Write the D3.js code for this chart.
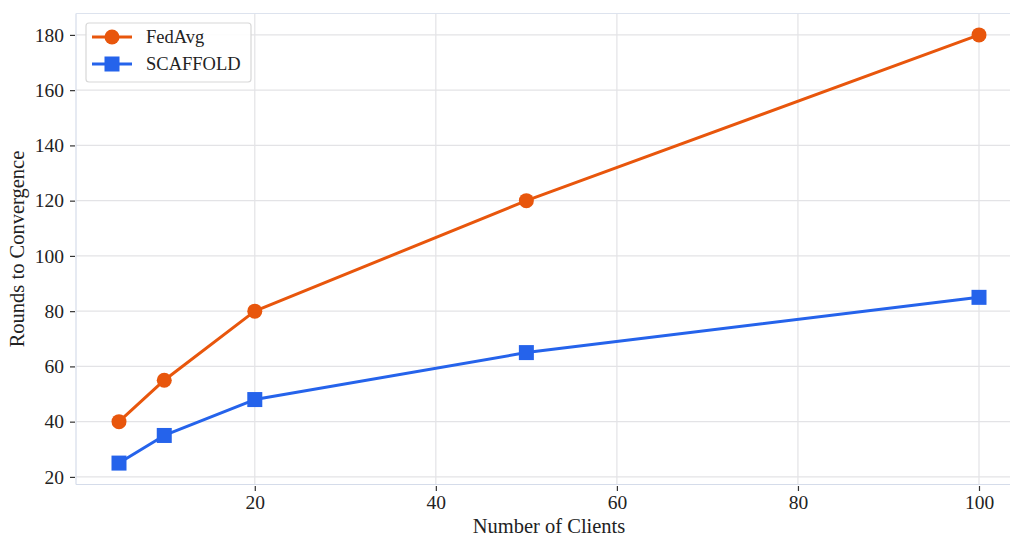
<!DOCTYPE html>
<html><head><meta charset="utf-8">
<script src="https://cdn.jsdelivr.net/npm/d3@7"></script>
<style>body{margin:0;background:#fff}svg{display:block}text{font-family:"Liberation Serif","DejaVu Serif",serif;fill:#222}</style>
</head><body>
<script>
const clients = [5, 10, 20, 50, 100];
const fedavg = [40, 55, 80, 120, 180];
const scaffold = [25, 35, 48, 65, 85];
const xTicks = [20, 40, 60, 80, 100];
const yTicks = [20, 40, 60, 80, 100, 120, 140, 160, 180];
const seriesNames = ["FedAvg", "SCAFFOLD"];

const W = 1010, H = 536;
const svg = d3.select("body").append("svg").attr("width", W).attr("height", H);
const x = d3.scaleLinear().domain([0.25, 104.75]).range([76, 1022]);
const y = d3.scaleLinear().domain([17.25, 187.75]).range([484.5, 13.5]);

// grid
svg.append("g").selectAll("line").data(xTicks).join("line")
  .attr("x1", d => x(d)).attr("x2", d => x(d)).attr("y1", y.range()[1]).attr("y2", y.range()[0])
  .attr("stroke", "#e3e3e6").attr("stroke-width", 1.2);
svg.append("g").selectAll("line").data(yTicks).join("line")
  .attr("y1", d => y(d)).attr("y2", d => y(d)).attr("x1", 76).attr("x2", W)
  .attr("stroke", "#e3e3e6").attr("stroke-width", 1.2);

// spines
svg.append("line").attr("x1", 76).attr("x2", 76).attr("y1", 13.5).attr("y2", 484.5).attr("stroke", "#d5dcea").attr("stroke-width", 1.2);
svg.append("line").attr("x1", 76).attr("x2", W).attr("y1", 484.5).attr("y2", 484.5).attr("stroke", "#d5dcea").attr("stroke-width", 1.2);
svg.append("line").attr("x1", 76).attr("x2", W).attr("y1", 13.5).attr("y2", 13.5).attr("stroke", "#dde3ee").attr("stroke-width", 1.2);

// axes
const xAxis = svg.append("g").attr("transform", "translate(0,486)")
  .call(d3.axisBottom(x).tickValues(xTicks).tickSize(5).tickPadding(4).tickFormat(d3.format("d")));
const yAxis = svg.append("g").attr("transform", "translate(75,0)")
  .call(d3.axisLeft(y).tickValues(yTicks).tickSize(5).tickPadding(6).tickFormat(d3.format("d")));
[xAxis, yAxis].forEach(a => {
  a.attr("font-family", null).attr("font-size", null);
  a.select(".domain").remove();
  a.selectAll(".tick line").attr("stroke", "#333").attr("stroke-width", 1.2);
  a.selectAll(".tick text").attr("fill", "#222")
    .style("font-size", "19.5px")
    .style("font-family", '"Liberation Serif","DejaVu Serif",serif');
});

const cx = (x.range()[0] + x.range()[1]) / 2;
svg.append("text").attr("x", cx).attr("y", 533).attr("text-anchor", "middle").attr("font-size", 20.5).text("Number of Clients");
svg.append("text").attr("transform", `translate(24,${(13.5+484.5)/2}) rotate(-90)`).attr("text-anchor", "middle").attr("font-size", 20.5).text("Rounds to Convergence");

const colors = ["#e8560c", "#2563eb"];
const data = [fedavg, scaffold];
const line = d3.line().x((d, i) => x(clients[i])).y(d => y(d));
data.forEach((vals, s) => {
  svg.append("path").datum(vals).attr("d", line).attr("fill", "none")
    .attr("stroke", colors[s]).attr("stroke-width", 3).attr("stroke-linejoin", "round");
  const g = svg.append("g");
  if (s === 0) {
    g.selectAll("circle").data(vals).join("circle")
      .attr("cx", (d, i) => x(clients[i])).attr("cy", d => y(d)).attr("r", 7.5).attr("fill", colors[s]);
  } else {
    g.selectAll("rect").data(vals).join("rect")
      .attr("x", (d, i) => x(clients[i]) - 7.5).attr("y", d => y(d) - 7.5)
      .attr("width", 15).attr("height", 15).attr("fill", colors[s]);
  }
});

// legend
const lg = svg.append("g");
lg.append("rect").attr("x", 86).attr("y", 23).attr("width", 165).attr("height", 59).attr("rx", 3)
  .attr("fill", "#fff").attr("fill-opacity", 0.9).attr("stroke", "#d8d8d8").attr("stroke-width", 1.2);
seriesNames.forEach((n, s) => {
  const cy = 37 + s * 27;
  lg.append("line").attr("x1", 92).attr("x2", 132).attr("y1", cy).attr("y2", cy).attr("stroke", colors[s]).attr("stroke-width", 3);
  if (s === 0) lg.append("circle").attr("cx", 112).attr("cy", cy).attr("r", 7.5).attr("fill", colors[s]);
  else lg.append("rect").attr("x", 104.5).attr("y", cy - 7.5).attr("width", 15).attr("height", 15).attr("fill", colors[s]);
  lg.append("text").attr("x", 146).attr("y", cy + 6).attr("font-size", 18.5).text(n);
});
</script>
</body></html>
